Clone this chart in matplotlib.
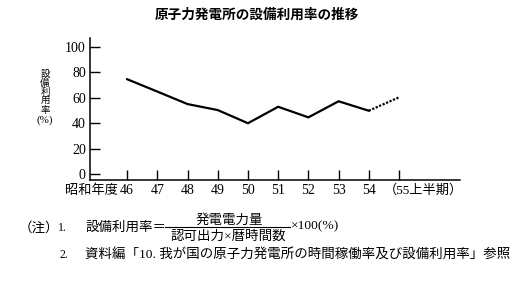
import matplotlib.pyplot as plt

plt.rcParams['font.family'] = ['Liberation Serif', 'Noto Sans CJK JP']

# 昭和年度 and 設備利用率 (%)
years = [46, 47, 48, 49, 50, 51, 52, 53, 54, 55]
rate = [74.5, 64.8, 55.0, 50.3, 40.0, 52.9, 44.6, 57.2, 49.8, 60.3]
year_labels = ['46', '47', '48', '49', '50', '51', '52', '53', '54', '']
yticks = [0, 20, 40, 60, 80, 100]
ylabel_chars = ['設', '備', '利', '用', '率']

fig = plt.figure(figsize=(5.19, 2.86), dpi=100)
ax = fig.add_axes([90 / 519, 1 - 180 / 286, 370 / 519, 142 / 286])

# solid part up to 54, dotted to 55 (上半期)
ax.plot(years[:-1], rate[:-1], color='black', lw=1.6, solid_joinstyle='miter')
ax.plot(years[-2:], rate[-2:], color='black', lw=1.6, ls=(0, (1.0, 0.7)))

ax.set_xlim(44.77, 57.02)
ax.set_ylim(-4.5, 106.8)
ax.set_xticks(years)
ax.set_xticklabels(year_labels)
ax.set_yticks(yticks)
ax.tick_params(axis='both', direction='in', length=7, width=1, labelsize=10, pad=3)
ax.tick_params(axis='x', pad=3)
for s in ['top', 'right']:
    ax.spines[s].set_visible(False)
for s in ['left', 'bottom']:
    ax.spines[s].set_linewidth(1.1)

ax.annotate('昭和年度', xy=(46, 0), xycoords=('data', 'axes fraction'),
            xytext=(-6.8, -3), textcoords='offset points',
            ha='right', va='top', fontsize=9.5)
ax.annotate('（55上半期）', xy=(55, 0), xycoords=('data', 'axes fraction'),
            xytext=(-11, -3), textcoords='offset points',
            ha='left', va='top', fontsize=9.5)

# vertical y label, one character per line
for i, ch in enumerate(ylabel_chars):
    fig.text(45 / 519, 1 - (74 + 9 * i) / 286, ch, ha='center', va='center', fontsize=6.8)
fig.text(45 / 519, 1 - 120 / 286, '(%)', ha='center', va='center', fontsize=8)

fig.text(257 / 519, 1 - 15 / 286, '原子力発電所の設備利用率の推移', ha='center', va='center',
         fontsize=9.8, fontweight='bold')

# notes
fs = 9.7
fig.text(19 / 519, 1 - 228 / 286, '（注）', ha='left', va='center', fontsize=fs)
fig.text(58 / 519, 1 - 228 / 286, '1.', ha='left', va='center', fontsize=8.5)
fig.text(85 / 519, 1 - 228 / 286, '設備利用率＝', ha='left', va='center', fontsize=fs)
fig.text(229 / 519, 1 - 220 / 286, '発電電力量', ha='center', va='center', fontsize=fs)
fig.text(228 / 519, 1 - 237 / 286, '認可出力×暦時間数', ha='center', va='center', fontsize=fs)
fig.add_artist(plt.Line2D([165 / 519, 290 / 519], [1 - 226.5 / 286, 1 - 226.5 / 286],
                          color='black', lw=0.8))
fig.text(291 / 519, 1 - 226 / 286, '×100(%)', ha='left', va='center', fontsize=fs)
fig.text(60 / 519, 1 - 255 / 286, '2.', ha='left', va='center', fontsize=8.5)
fig.text(85 / 519, 1 - 255 / 286, '資料編「10. 我が国の原子力発電所の時間稼働率及び設備利用率」参照',
         ha='left', va='center', fontsize=fs)

fig.savefig('out.png', dpi=100)
